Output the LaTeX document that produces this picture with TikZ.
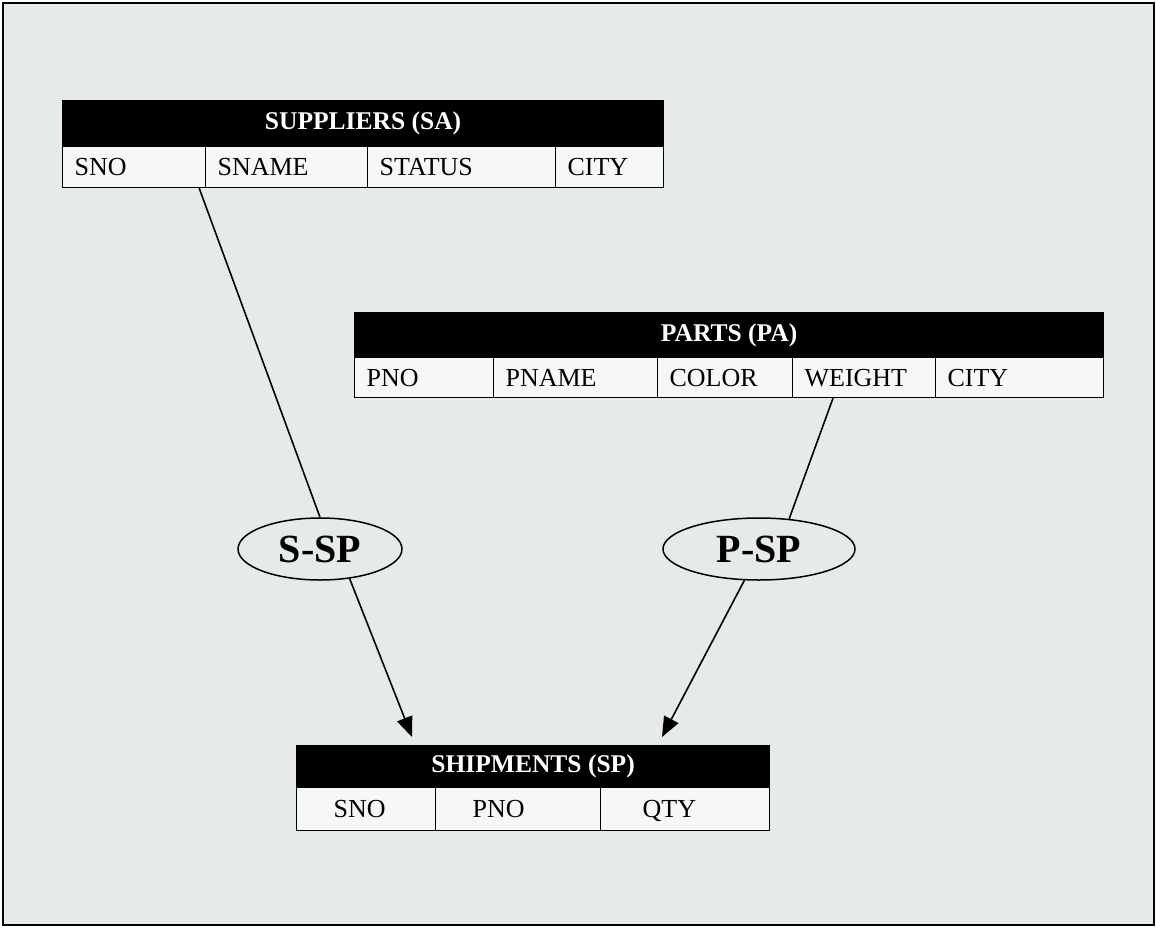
\documentclass[tikz,border=0pt]{standalone}
\usepackage{fontspec}
\setmainfont{Liberation Serif}
\usetikzlibrary{arrows.meta,shapes.geometric,calc}
\definecolor{bg}{RGB}{230,234,235}
\definecolor{cellbg}{RGB}{246,247,247}
\begin{document}
\begin{tikzpicture}[x=1pt,y=-1pt,
  hdr/.style={fill=black, draw=black, line width=1.2pt, inner sep=0pt, anchor=north west,
    text=white, font=\fontsize{25.5}{26}\selectfont\bfseries},
  cellbox/.style={fill=cellbg, draw=black, line width=1.2pt, anchor=north west,
    inner ysep=0pt, inner xsep=#1, align=left, text height=17pt, text depth=0pt,
    font=\fontsize{26}{26}\selectfont},
  cellbox/.default=12pt,
  relbox/.style={ellipse, draw=black, fill=bg, line width=1.5pt, inner sep=0pt,
    font=\fontsize{40}{40}\selectfont\bfseries},
  link/.style={draw=black, line width=1.6pt},
  arr/.style={link, -{Triangle[length=20pt,width=16pt]}}]
\useasboundingbox (0,0) rectangle (1157,927);
\fill[white] (0,0) rectangle (1157,927);
\draw[fill=bg, line width=1.5pt] (3,3) rectangle (1154,925);

% Suppliers
\node[hdr, minimum width=601pt, minimum height=46pt] (sa) at (62,100) {SUPPLIERS (SA)};
\node[cellbox, text width=119pt, minimum height=41pt] (sa-sno) at (62,146) {SNO};
\node[cellbox, text width=138pt, minimum height=41pt] (sa-sname) at (205,146) {SNAME};
\node[cellbox, text width=164pt, minimum height=41pt] (sa-status) at (367,146) {STATUS};
\node[cellbox, text width=84pt, minimum height=41pt] (sa-city) at (555,146) {CITY};

% Parts
\node[hdr, minimum width=749pt, minimum height=45pt] (pa) at (354,312) {PARTS (PA)};
\node[cellbox, text width=115pt, minimum height=40pt] (pa-pno) at (354,357) {PNO};
\node[cellbox, text width=140pt, minimum height=40pt] (pa-pname) at (493,357) {PNAME};
\node[cellbox, text width=111pt, minimum height=40pt] (pa-color) at (657,357) {COLOR};
\node[cellbox, text width=119pt, minimum height=40pt] (pa-weight) at (792,357) {WEIGHT};
\node[cellbox, text width=144pt, minimum height=40pt] (pa-city) at (935,357) {CITY};

% Shipments
\node[hdr, minimum width=473pt, minimum height=42pt] (sp) at (296,745) {SHIPMENTS (SP)};
\node[cellbox=37pt, text width=65pt, minimum height=43pt] (sp-sno) at (296,787) {SNO};
\node[cellbox=37pt, text width=91pt, minimum height=43pt] (sp-pno) at (435,787) {PNO};
\node[cellbox=42pt, text width=85pt, minimum height=43pt] (sp-qty) at (600,787) {QTY};

% Relationships
\node[relbox, minimum width=164pt, minimum height=62pt] (sssp) at (320,549) {S-SP};
\node[relbox, minimum width=192pt, minimum height=62pt] (pssp) at (759,549) {P-SP};

\coordinate (s1) at ($(sa-sno.south east)+(-7,0)$);
\coordinate (p1) at ($(pa-weight.south west)+(41,0)$);
\coordinate (t1) at (412,737);
\coordinate (t2) at (662,737);

\draw[link] (s1) -- (sssp.north);
\draw[link] (p1) -- (pssp.45);
\draw[arr] (sssp.-45) -- (t1);
\draw[arr] (pssp.-115) -- (t2);
\end{tikzpicture}
\end{document}
